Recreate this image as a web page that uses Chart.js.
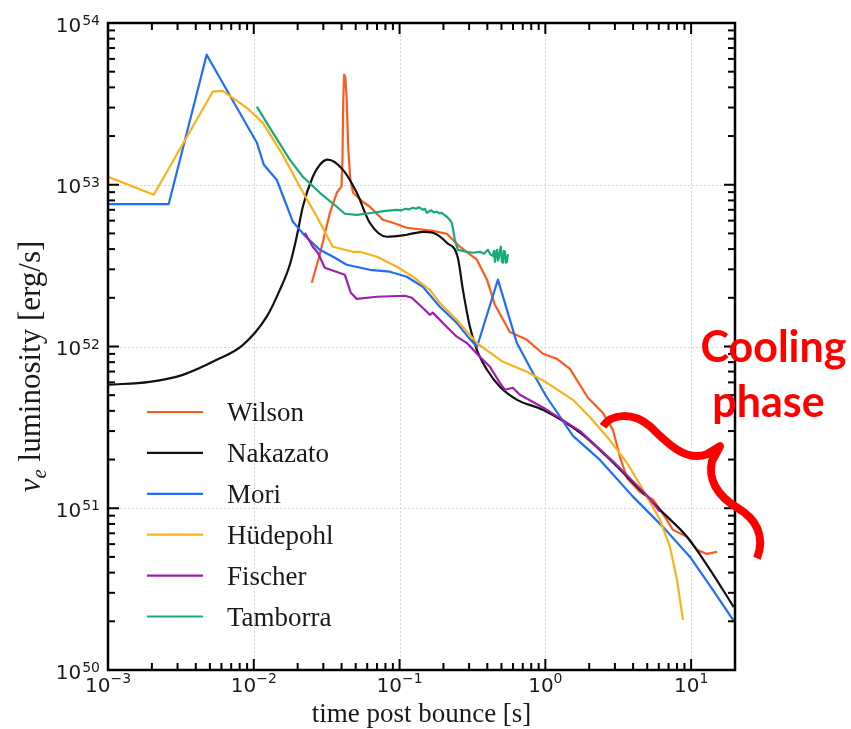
<!DOCTYPE html>
<html>
<head>
<meta charset="utf-8">
<script src="https://cdn.jsdelivr.net/npm/chart.js@4.4.1/dist/chart.umd.min.js"></script>
<style>
html,body{margin:0;padding:0;background:#ffffff;}
#wrap{width:851px;height:729px;position:relative;}
canvas{display:block;}
</style>
</head>
<body>
<div id="wrap"><canvas id="c" width="851" height="729"></canvas></div>
<script>
// ---------------- DATA (time post bounce [s], nu_e luminosity [erg/s]) ----------------
const seriesNames  = ['Wilson', 'Nakazato', 'Mori', 'Hüdepohl', 'Fischer', 'Tamborra'];
const seriesColors = ['#ff5a1e', '#111111', '#1f6cff', '#fbb117', '#9c1fae', '#17a97a'];
const seriesSmooth = [false, true, false, false, false, false];

const wilsonT = [0.025, 0.0284, 0.0333, 0.0371, 0.040, 0.0406, 0.0411, 0.0417, 0.0425, 0.0433, 0.0445, 0.046, 0.048, 0.056, 0.0625, 0.0768, 0.09, 0.112, 0.169, 0.211, 0.259, 0.339, 0.398, 0.451, 0.571, 0.748, 0.963, 1.2, 1.475, 1.96, 2.48, 2.91, 3.25, 3.63, 4.46, 5.48, 6.41, 7.51, 9.37, 10.98, 12.86, 15.05];
const wilsonL = [2.48e52, 3.72e52, 6.71e52, 8.92e52, 9.77e52, 1.43e53, 3.36e53, 4.79e53, 4.59e53, 3.5e53, 1.65e53, 1.07e53, 8.92e52, 7.85e52, 7.31e52, 6.07e52, 5.82e52, 5.42e52, 5.19e52, 4.98e52, 4.14e52, 3.44e52, 2.59e52, 1.81e52, 1.23e52, 1.1e52, 9.02e51, 8.39e51, 7.28e51, 4.82e51, 3.89e51, 3.05e51, 2.08e51, 1.54e51, 1.26e51, 1.13e51, 9.23e50, 7.35e50, 6.66e50, 5.53e50, 5.22e50, 5.37e50];

const nakazatoT = [0.001, 0.00193, 0.00326, 0.00557, 0.0084, 0.01227, 0.0151, 0.01767, 0.0197, 0.0217, 0.0254, 0.0284, 0.0322, 0.0408, 0.0509, 0.0625, 0.0818, 0.112, 0.1445, 0.169, 0.211, 0.251, 0.272, 0.304, 0.339, 0.398, 0.488, 0.64, 0.963, 1.73, 2.65, 3.99, 6.12, 9.37, 13.5, 19.6];
const nakazatoL = [5.8e51, 6.05e51, 6.68e51, 8.27e51, 1.02e52, 1.53e52, 2.24e52, 3.2e52, 4.77e52, 7.31e52, 1.12e53, 1.33e53, 1.43e53, 1.24e53, 8.92e52, 5.82e52, 4.77e52, 4.91e52, 5.12e52, 5.05e52, 4.38e52, 3.54e52, 2.24e52, 1.32e52, 9.54e51, 7.18e51, 5.63e51, 4.68e51, 4.06e51, 2.93e51, 2.08e51, 1.44e51, 9.77e50, 6.66e50, 4.16e50, 2.45e50];

const moriT = [0.001, 0.00261, 0.00475, 0.0105, 0.01172, 0.0144, 0.01855, 0.0224, 0.0284, 0.036, 0.0434, 0.0625, 0.0858, 0.112, 0.1445, 0.189, 0.247, 0.294, 0.34, 0.473, 0.638, 0.821, 1.018, 1.547, 2.37, 3.99, 6.41, 9.83, 14.1, 19.6];
const moriL = [7.6e52, 7.6e52, 6.37e53, 1.82e53, 1.33e53, 1.07e53, 5.9e52, 4.84e52, 3.96e52, 3.54e52, 3.2e52, 2.98e52, 2.9e52, 2.7e52, 2.34e52, 1.76e52, 1.4e52, 1.15e52, 9.96e51, 2.59e52, 1.05e52, 6.88e51, 4.89e51, 2.8e51, 1.99e51, 1.18e51, 7.67e50, 5.0e50, 3.13e50, 2.01e50];

const huedepohlT = [0.001, 0.00206, 0.00523, 0.00613, 0.00895, 0.01153, 0.0158, 0.0207, 0.0271, 0.0348, 0.0478, 0.0534, 0.0699, 0.0959, 0.1234, 0.1614, 0.189, 0.247, 0.339, 0.512, 0.748, 1.026, 1.545, 2.02, 2.65, 3.63, 4.68, 6.12, 7.16, 8.0, 8.8];
const huedepohlL = [1.12e53, 8.67e52, 3.76e53, 3.81e53, 2.99e53, 2.42e53, 1.53e53, 9.72e52, 6.34e52, 4.14e52, 3.85e52, 3.85e52, 3.59e52, 3.11e52, 2.7e52, 2.24e52, 1.86e52, 1.46e52, 1.05e52, 8.04e51, 6.98e51, 5.96e51, 4.68e51, 3.67e51, 2.77e51, 1.91e51, 1.3e51, 8.48e50, 5.77e50, 3.61e50, 2.04e50];

const fischerT = [0.0224, 0.0254, 0.0275, 0.0307, 0.0421, 0.0463, 0.0509, 0.0699, 0.1087, 0.1215, 0.1445, 0.1614, 0.169, 0.211, 0.247, 0.2897, 0.3557, 0.417, 0.488, 0.528, 0.599, 0.669, 0.963, 1.73, 2.91, 4.98, 6.12];
const fischerL = [5.05e52, 4.14e52, 3.8e52, 3.07e52, 2.78e52, 2.15e52, 1.97e52, 2.03e52, 2.06e52, 2.0e52, 1.73e52, 1.57e52, 1.62e52, 1.32e52, 1.15e52, 1.05e52, 8.64e51, 7.49e51, 5.96e51, 5.4e51, 5.56e51, 5.03e51, 4.2e51, 3.0e51, 1.95e51, 1.2e51, 9.5e50];

const tamborraT = [0.0105, 0.0135, 0.01767, 0.0217, 0.0284, 0.0371, 0.0421, 0.0509, 0.0656, 0.08, 0.0959, 0.103, 0.11, 0.117, 0.1234, 0.13, 0.135, 0.14, 0.1445, 0.149, 0.1539, 0.16, 0.165, 0.172, 0.1803, 0.188, 0.195, 0.203, 0.211, 0.22, 0.2285, 0.2395, 0.251, 0.27, 0.2897, 0.32, 0.3557, 0.38, 0.403, 0.42, 0.4369, 0.444, 0.451, 0.458, 0.4654, 0.473, 0.4803, 0.488, 0.4956, 0.503, 0.5117, 0.52, 0.528, 0.536, 0.5448, 0.5536];
const tamborraL = [3.04e53, 2.1e53, 1.43e53, 1.12e53, 8.92e52, 7.31e52, 6.62e52, 6.52e52, 6.71e52, 6.9e52, 7.0e52, 6.95e52, 7.1e52, 7.05e52, 7.21e52, 7.1e52, 7.25e52, 7.15e52, 7.0e52, 7.1e52, 6.71e52, 6.85e52, 6.95e52, 6.75e52, 6.81e52, 6.65e52, 6.7e52, 6.5e52, 6.34e52, 6.1e52, 5.82e52, 4.57e52, 3.96e52, 3.9e52, 3.85e52, 3.8e52, 3.85e52, 3.75e52, 3.96e52, 3.7e52, 3.64e52, 3.9e52, 3.34e52, 3.8e52, 3.96e52, 3.4e52, 3.54e52, 3.95e52, 4.14e52, 3.35e52, 3.3e52, 3.9e52, 3.85e52, 3.3e52, 3.34e52, 3.72e52];

const seriesT = [wilsonT, nakazatoT, moriT, huedepohlT, fischerT, tamborraT];
const seriesL = [wilsonL, nakazatoL, moriL, huedepohlL, fischerL, tamborraL];

// axis ticks / labels
const xMajorTicks = [1e-3, 1e-2, 1e-1, 1, 10];
const xTickExponents = ['\u22123', '\u22122', '\u22121', '0', '1'];
const yMajorTicks = [1e50, 1e51, 1e52, 1e53, 1e54];
const yTickExponents = ['50', '51', '52', '53', '54'];
const xRange = [1e-3, 20];
const yRange = [1e50, 1e54];
const xTitle = 'time post bounce [s]';
const yTitleParts = ['\u03bd', 'e', ' luminosity [erg/s]'];
const annotationLines = ['Cooling', 'phase'];

// ---------------- CHART ----------------
const datasets = seriesNames.map((name, i) => ({
  label: name,
  data: seriesT[i].map((t, k) => ({x: t, y: seriesL[i][k]})),
  borderColor: seriesColors[i],
  backgroundColor: seriesColors[i],
  borderWidth: 2.2,
  pointRadius: 0,
  pointHoverRadius: 0,
  tension: 0,
  cubicInterpolationMode: seriesSmooth[i] ? 'monotone' : 'default',
  fill: false,
  order: seriesNames.length - i
}));

function minorValues(majors, lo, hi) {
  const out = [];
  majors.forEach(m => { for (let k = 2; k <= 9; k++) { const v = k * m; if (v >= lo * 0.999 && v <= hi * 1.001) out.push(v); } });
  return out;
}

const decor = {
  id: 'decor',
  beforeDatasetsDraw(chart) {
    const {ctx, chartArea: a, scales: {x, y}} = chart;
    ctx.save();
    ctx.strokeStyle = '#d4d4d4';
    ctx.lineWidth = 1;
    ctx.setLineDash([2, 2]);
    xMajorTicks.forEach(v => {
      const px = Math.round(x.getPixelForValue(v)) + 0.5;
      if (px > a.left + 3 && px < a.right - 3) { ctx.beginPath(); ctx.moveTo(px, a.top); ctx.lineTo(px, a.bottom); ctx.stroke(); }
    });
    yMajorTicks.forEach(v => {
      const py = Math.round(y.getPixelForValue(v)) + 0.5;
      if (py > a.top + 3 && py < a.bottom - 3) { ctx.beginPath(); ctx.moveTo(a.left, py); ctx.lineTo(a.right, py); ctx.stroke(); }
    });
    ctx.restore();
  },
  afterDatasetsDraw(chart) {
    const {ctx, chartArea: a, scales: {x, y}} = chart;
    ctx.save();
    // ticks (inward, all four sides)
    ctx.strokeStyle = '#000';
    const drawXTick = (v, len, w) => {
      const px = x.getPixelForValue(v);
      ctx.lineWidth = w;
      ctx.beginPath(); ctx.moveTo(px, a.bottom); ctx.lineTo(px, a.bottom - len); ctx.stroke();
      ctx.beginPath(); ctx.moveTo(px, a.top); ctx.lineTo(px, a.top + len); ctx.stroke();
    };
    const drawYTick = (v, len, w) => {
      const py = y.getPixelForValue(v);
      ctx.lineWidth = w;
      ctx.beginPath(); ctx.moveTo(a.left, py); ctx.lineTo(a.left + len, py); ctx.stroke();
      ctx.beginPath(); ctx.moveTo(a.right, py); ctx.lineTo(a.right - len, py); ctx.stroke();
    };
    minorValues(xMajorTicks, xRange[0], xRange[1]).forEach(v => drawXTick(v, 7, 2));
    xMajorTicks.forEach(v => drawXTick(v, 11, 2));
    minorValues(yMajorTicks, yRange[0], yRange[1]).forEach(v => drawYTick(v, 7, 2));
    yMajorTicks.forEach(v => drawYTick(v, 11, 2));
    // axes box
    ctx.lineWidth = 2.5;
    ctx.strokeRect(a.left, a.top, a.right - a.left, a.bottom - a.top);

    // tick labels
    ctx.fillStyle = '#1a1a1a';
    ctx.textBaseline = 'alphabetic';
    const baseFont = '20px "DejaVu Sans"', expFont = '14px "DejaVu Sans"';
    xMajorTicks.forEach((v, i) => {
      const px = x.getPixelForValue(v);
      ctx.font = baseFont; const wb = ctx.measureText('10').width;
      ctx.font = expFont; const we = ctx.measureText(xTickExponents[i]).width;
      const s = px - (wb + we) / 2;
      ctx.textAlign = 'left';
      ctx.font = baseFont; ctx.fillText('10', s, a.bottom + 22);
      ctx.font = expFont; ctx.fillText(xTickExponents[i], s + wb, a.bottom + 13);
    });
    yMajorTicks.forEach((v, i) => {
      const py = y.getPixelForValue(v);
      const r = a.left - 8;
      ctx.font = expFont; const we = ctx.measureText(yTickExponents[i]).width;
      ctx.textAlign = 'right';
      ctx.fillText(yTickExponents[i], r, py + 2);
      ctx.font = baseFont; ctx.fillText('10', r - we - 1, py + 8.5);
    });

    // y title (rotated)
    ctx.save();
    ctx.translate(40, (a.top + a.bottom) / 2 + 20);
    ctx.rotate(-Math.PI / 2);
    const parts = [
      {t: yTitleParts[0], f: 'italic 31px "Liberation Serif"', dy: 0},
      {t: yTitleParts[1], f: 'italic 21px "Liberation Serif"', dy: 6},
      {t: yTitleParts[2], f: '31px "Liberation Serif"', dy: 0}
    ];
    let total = 0;
    parts.forEach(p => { ctx.font = p.f; p.w = ctx.measureText(p.t).width; total += p.w; });
    let cx = -total / 2;
    ctx.textAlign = 'left';
    parts.forEach(p => { ctx.font = p.f; ctx.fillText(p.t, cx, p.dy); cx += p.w; });
    ctx.restore();

    // legend (inside plot, lower left)
    const lx0 = a.left + 39, lx1 = a.left + 95, ltx = a.left + 119;
    const ly0 = a.bottom - 258, ldy = 40.9;
    ctx.font = '27px "Liberation Serif"';
    ctx.textAlign = 'left';
    chart.data.datasets.forEach((ds, i) => {
      const yy = ly0 + i * ldy;
      ctx.strokeStyle = ds.borderColor; ctx.lineWidth = 2.2;
      ctx.beginPath(); ctx.moveTo(lx0, yy); ctx.lineTo(lx1, yy); ctx.stroke();
      ctx.fillStyle = '#1a1a1a';
      ctx.fillText(ds.label, ltx, yy + 9);
    });

    // annotation: "Cooling phase" with brace
    const R = a.right, Y51 = y.getPixelForValue(1e51), Y52 = y.getPixelForValue(1e52);
    ctx.strokeStyle = '#ff0000';
    ctx.fillStyle = '#ff0000';
    ctx.lineWidth = 8;
    ctx.lineCap = 'butt';
    ctx.lineJoin = 'round';
    ctx.beginPath();
    ctx.moveTo(R - 132, Y51 - 82);
    ctx.bezierCurveTo(R - 124, Y51 - 94, R - 103, Y51 - 97, R - 85, Y51 - 82);
    ctx.bezierCurveTo(R - 68, Y51 - 65, R - 49, Y51 - 46, R - 28, Y51 - 54);
    ctx.lineTo(R - 15, Y51 - 62);
    ctx.lineTo(R - 23, Y51 - 47);
    ctx.bezierCurveTo(R - 27, Y51 - 30, R - 19, Y51 - 13, R + 3, Y51);
    ctx.bezierCurveTo(R + 20, Y51 + 10, R + 31, Y51 + 27, R + 22, Y51 + 50);
    ctx.stroke();
    ctx.font = 'bold 43px Lato';
    ctx.textAlign = 'center';
    ctx.fillText(annotationLines[0], R + 38.5, Y52 + 15.5);
    ctx.fillText(annotationLines[1], R + 33.5, Y52 + 70.5);
    ctx.restore();
  }
};

new Chart(document.getElementById('c'), {
  type: 'line',
  data: {datasets},
  options: {
    responsive: false,
    animation: false,
    devicePixelRatio: 1,
    layout: {padding: {top: 23, right: 116, left: 0, bottom: 0}},
    plugins: {legend: {display: false}, tooltip: {enabled: false}},
    elements: {line: {borderCapStyle: 'butt', borderJoinStyle: 'round'}},
    scales: {
      x: {
        type: 'logarithmic', min: xRange[0], max: xRange[1],
        grid: {display: false, drawTicks: false, tickLength: 0},
        border: {display: false},
        ticks: {display: false},
        title: {display: true, text: xTitle, color: '#1a1a1a', font: {family: 'Liberation Serif', size: 27, lineHeight: 1}, padding: {top: 0, bottom: 1}},
        afterFit(s) { s.height = 59; }
      },
      y: {
        type: 'logarithmic', min: yRange[0], max: yRange[1],
        grid: {display: false, drawTicks: false, tickLength: 0},
        border: {display: false},
        ticks: {display: false},
        afterFit(s) { s.width = 108; }
      }
    }
  },
  plugins: [decor]
});
</script>
</body>
</html>
